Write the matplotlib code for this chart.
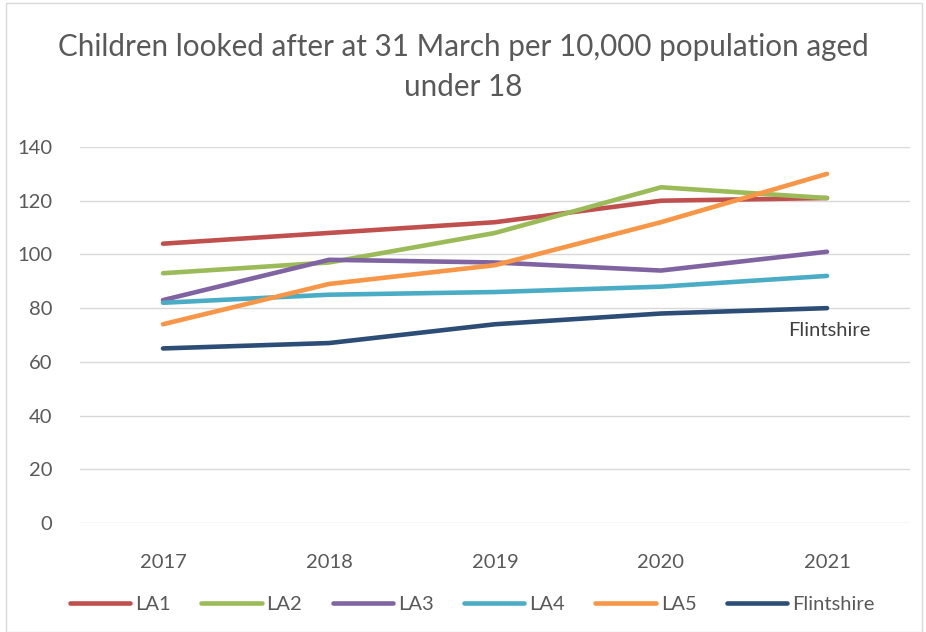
import numpy as np
import matplotlib.pyplot as plt
from matplotlib.patches import Rectangle

years = ["2017", "2018", "2019", "2020", "2021"]
series = {
    "LA1": [104, 108, 112, 120, 121],
    "LA2": [93, 97, 108, 125, 121],
    "LA3": [83, 98, 97, 94, 101],
    "LA4": [82, 85, 86, 88, 92],
    "LA5": [74, 89, 96, 112, 130],
    "Flintshire": [65, 67, 74, 78, 80],
}
colors = ["#C0504D", "#9BBB59", "#8064A2", "#4BACC6", "#F79646", "#2C4D75"]
yticks = [0, 20, 40, 60, 80, 100, 120, 140]

plt.rcParams["font.family"] = ["Lato", "DejaVu Sans"]
txt = "#595959"

fig = plt.figure(figsize=(9.26, 6.32), dpi=100)
fig.patches.append(Rectangle((0.006, 0.0), 0.99, 0.995, transform=fig.transFigure,
                             fill=False, edgecolor="#D9D9D9", lw=1))
ax = fig.add_axes([80 / 926, 1 - 523 / 632, 830 / 926, 376 / 632])

x = np.arange(len(years))
for (name, vals), c in zip(series.items(), colors):
    ax.plot(x, vals, color=c, lw=3.3, solid_capstyle="round", label=name, zorder=3)

ax.annotate("Flintshire", (x[-1], series["Flintshire"][-1]), xytext=(-28, -10),
            textcoords="offset points", ha="left", va="top", fontsize=14.5, color="#404040")

ax.set_xlim(-0.5, len(years) - 0.5)
ax.set_ylim(0, 140)
ax.set_yticks(yticks)
ax.set_xticks(x)
ax.set_xticklabels(years)
ax.grid(axis="y", color="#D9D9D9", lw=1)
ax.set_axisbelow(True)
for s in ax.spines.values():
    s.set_visible(False)
ax.tick_params(length=0, labelsize=14.5, labelcolor=txt)
ax.tick_params(axis="x", pad=22)
ax.tick_params(axis="y", pad=20)

fig.suptitle("Children looked after at 31 March per 10,000 population aged\nunder 18",
             y=0.947, fontsize=21.3, color=txt, linespacing=1.5)

leg = fig.legend(loc="center", bbox_to_anchor=(0.51, 0.044), ncol=6, frameon=False,
                 fontsize=14.5, handlelength=3.0, handletextpad=0.25, columnspacing=1.5,
                 labelcolor=txt)

fig.savefig("out.png", dpi=100, facecolor="white")
